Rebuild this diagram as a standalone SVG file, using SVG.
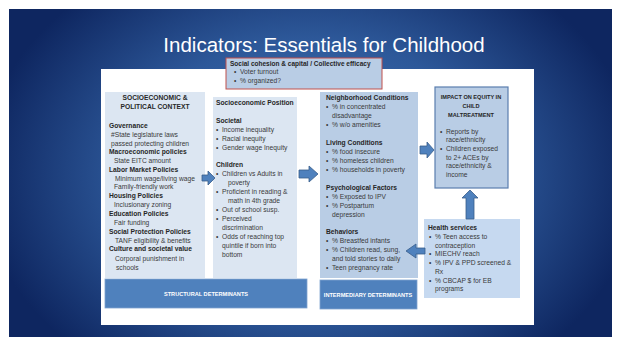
<svg xmlns="http://www.w3.org/2000/svg" width="618" height="345" viewBox="0 0 618 345">
<defs>
<radialGradient id="bg" cx="310" cy="175" r="330" gradientUnits="userSpaceOnUse" gradientTransform="translate(310 175) scale(1 0.75) translate(-310 -175)">
<stop offset="0" stop-color="#4577b9"/>
<stop offset="0.55" stop-color="#2d5899"/>
<stop offset="1" stop-color="#0e2660"/>
</radialGradient>
<style>
text{font-family:"Liberation Sans",Arial,sans-serif;font-size:6.7px;fill:#3a3a3a}
.b{font-weight:bold;fill:#262626}
.c{text-anchor:middle}
.w{fill:#ffffff;font-weight:bold;font-size:5.6px;text-anchor:middle}
.arr{fill:#4f81bd;stroke:#385d8a;stroke-width:0.8}
.lt{fill:#dce6f2}
.md{fill:#b9cde5}
.det{fill:#4f81bd;stroke:#7fa3d0;stroke-width:0.8}
</style>
</defs>
<rect x="0" y="0" width="618" height="345" fill="#ffffff"/>
<rect x="9" y="9" width="603" height="328" fill="url(#bg)"/>
<text x="324" y="52" class="c" style="font-size:20.5px;fill:#ffffff;font-weight:normal">Indicators: Essentials for Childhood</text>
<rect x="101" y="69" width="433" height="256" fill="#ffffff"/>

<g id="socio-political">
<rect x="105" y="92" width="100" height="186" class="lt"/>
<text x="155" y="100" class="b c">SOCIOECONOMIC &amp;</text>
<text x="155" y="109" class="b c">POLITICAL CONTEXT</text>
<text x="109" y="128" class="b">Governance</text>
<text x="111" y="137">#State legislature laws</text>
<text x="111" y="146">passed protecting children</text>
<text x="109" y="154" class="b">Macroeconomic policies</text>
<text x="114" y="163">State EITC amount</text>
<text x="109" y="172" class="b">Labor Market Policies</text>
<text x="115" y="181">Minimum wage/living wage</text>
<text x="114" y="189">Family-friendly work</text>
<text x="109" y="198" class="b">Housing Policies</text>
<text x="114" y="207">Inclusionary zoning</text>
<text x="109" y="216" class="b">Education Policies</text>
<text x="114" y="225">Fair funding</text>
<text x="109" y="234" class="b">Social Protection Policies</text>
<text x="115" y="243">TANF eligibility &amp; benefits</text>
<text x="109" y="251" class="b">Culture and societal value</text>
<text x="115" y="261">Corporal punishment in</text>
<text x="116" y="270">schools</text>
</g>

<g id="socio-position">
<rect x="213" y="97" width="84" height="181" class="lt"/>
<text x="216" y="105" class="b">Socioeconomic Position</text>
<text x="216" y="123" class="b">Societal</text>
<text x="216" y="132">•</text><text x="222" y="132">Income inequality</text>
<text x="216" y="141">•</text><text x="222" y="141">Racial inequity</text>
<text x="216" y="150">•</text><text x="222" y="150">Gender wage Inequity</text>
<text x="216" y="167" class="b">Children</text>
<text x="216" y="176">•</text><text x="222" y="176">Children vs Adults in</text>
<text x="228" y="185">poverty</text>
<text x="216" y="194">•</text><text x="222" y="194">Proficient in reading &amp;</text>
<text x="228" y="203">math in 4th grade</text>
<text x="216" y="212">•</text><text x="222" y="212">Out of school susp.</text>
<text x="216" y="221">•</text><text x="222" y="221">Perceived</text>
<text x="222" y="230">discrimination</text>
<text x="216" y="239">•</text><text x="222" y="239">Odds of reaching top</text>
<text x="222" y="248">quintile if born into</text>
<text x="222" y="257">bottom</text>
</g>

<g id="social-cohesion">
<rect x="226" y="58" width="156" height="31" fill="#b9cde5" stroke="#c0504d" stroke-width="1"/>
<text x="230" y="66" class="b" style="font-size:6.5px">Social cohesion &amp; capital / Collective efficacy</text>
<text x="234" y="74">•</text><text x="240" y="74">Voter turnout</text>
<text x="234" y="83">•</text><text x="240" y="83">% organized?</text>
</g>

<g id="intermediary">
<rect x="320" y="92" width="98" height="186" class="md"/>
<text x="326" y="100" class="b">Neighborhood Conditions</text>
<text x="326" y="109">•</text><text x="332" y="109">% in concentrated</text>
<text x="332" y="118">disadvantage</text>
<text x="326" y="127">•</text><text x="332" y="127">% w/o amenities</text>
<text x="326" y="145" class="b">Living Conditions</text>
<text x="326" y="154">•</text><text x="332" y="154">% food insecure</text>
<text x="326" y="163">•</text><text x="332" y="163">% homeless children</text>
<text x="326" y="172">•</text><text x="332" y="172">% households in poverty</text>
<text x="326" y="190" class="b">Psychological Factors</text>
<text x="326" y="199">•</text><text x="332" y="199">% Exposed to IPV</text>
<text x="326" y="208">•</text><text x="332" y="208">% Postpartum</text>
<text x="332" y="217">depression</text>
<text x="326" y="234" class="b">Behaviors</text>
<text x="326" y="243">•</text><text x="332" y="243">% Breastfed infants</text>
<text x="326" y="252">•</text><text x="332" y="252">% Children read, sung,</text>
<text x="332" y="261">and told stories to daily</text>
<text x="326" y="270">•</text><text x="332" y="270">Teen pregnancy rate</text>
</g>

<g id="impact">
<rect x="435" y="87" width="73" height="101" fill="#b9cde5" stroke="#5a7eae" stroke-width="1.2"/>
<text x="471" y="99" class="b c" style="font-size:5.6px">IMPACT ON EQUITY IN</text>
<text x="471" y="108" class="b c" style="font-size:5.6px">CHILD</text>
<text x="471" y="117" class="b c" style="font-size:5.6px">MALTREATMENT</text>
<text x="440" y="134">•</text><text x="446" y="134">Reports by</text>
<text x="446" y="142">race/ethnicity</text>
<text x="440" y="151">•</text><text x="446" y="151">Children exposed</text>
<text x="446" y="160">to 2+ ACEs by</text>
<text x="446" y="168">race/ethnicity &amp;</text>
<text x="446" y="177">income</text>
</g>

<g id="health-services">
<rect x="424" y="219" width="96" height="79" fill="#c6d9f0"/>
<text x="428" y="230" class="b">Health services</text>
<text x="429" y="239">•</text><text x="435" y="239">% Teen access to</text>
<text x="435" y="248">contraception</text>
<text x="429" y="256">•</text><text x="435" y="256">MIECHV reach</text>
<text x="429" y="265">•</text><text x="435" y="265">% IPV &amp; PPD screened &amp;</text>
<text x="435" y="274">Rx</text>
<text x="429" y="283">•</text><text x="435" y="283">% CBCAP $ for EB</text>
<text x="435" y="291">programs</text>
</g>

<g id="structural-determinants">
<rect x="105" y="279" width="202" height="29" class="det"/>
<text x="206" y="296" class="w">STRUCTURAL DETERMINANTS</text>
</g>

<g id="intermediary-determinants">
<rect x="320" y="280" width="97" height="29" class="det"/>
<text x="368" y="297" class="w">INTERMEDIARY DETERMINANTS</text>
</g>

<g id="connectors">
<path class="arr" d="M202,175 L208,175 L208,171 L215,178 L208,185 L208,181 L202,181 Z"/>
<path class="arr" d="M299,170 L309,170 L309,166 L318,174 L309,182 L309,178 L299,178 Z"/>
<path class="arr" d="M420,146 L427,146 L427,142 L434,150 L427,158 L427,154 L420,154 Z"/>
<path class="arr" d="M466,219 L466,198 L462,198 L470,190 L478,198 L474,198 L474,219 Z"/>
<path class="arr" d="M425,248 L416,248 L416,244 L406,251 L416,258 L416,254 L425,254 Z"/>
</g>
</svg>
